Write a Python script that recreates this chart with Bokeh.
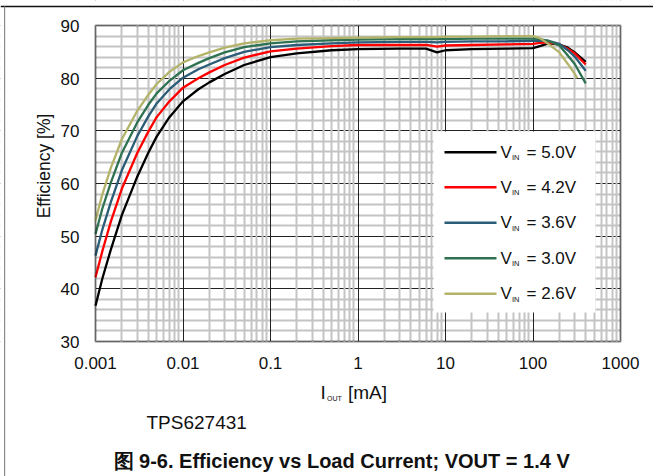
import math
from bokeh.plotting import figure
from bokeh.models import FixedTicker, Grid, Label, BoxAnnotation, Range1d
from bokeh.core.properties import value
from bokeh.embed import file_html
from bokeh.resources import INLINE

# ---------------- data ----------------
current_ma = [0.001, 0.0012, 0.0015, 0.002, 0.003, 0.004, 0.005, 0.007, 0.01, 0.015,
              0.02, 0.03, 0.05, 0.1, 0.2, 0.5, 1, 3, 6, 8, 10, 20, 50, 100,
              120, 150, 200, 250, 300, 400]
current_ma_26 = [0.001, 0.0012, 0.0015, 0.002, 0.003, 0.004, 0.005, 0.007, 0.01, 0.015,
                 0.02, 0.03, 0.05, 0.1, 0.2, 0.5, 1, 3, 6, 8, 10, 20, 50, 100,
                 120, 150, 200, 250, 300, 320]

eff_5v0 = [36.8, 42.0, 47.5, 54.0, 61.3, 65.8, 68.9, 72.6, 75.6, 77.9,
           79.2, 80.8, 82.5, 84.0, 84.7, 85.3, 85.5, 85.6, 85.6, 84.9, 85.3, 85.5, 85.6, 85.7,
           86.1, 86.6, 86.4, 85.8, 84.9, 83.1]
eff_4v2 = [42.2, 47.2, 52.8, 59.0, 65.8, 69.8, 72.6, 75.6, 78.2, 80.0,
           81.1, 82.5, 83.9, 85.1, 85.6, 86.1, 86.3, 86.3, 86.3, 86.0, 86.2, 86.3, 86.4, 86.5,
           86.7, 86.8, 86.4, 85.6, 84.7, 82.6]
eff_3v6 = [46.3, 51.3, 56.5, 62.5, 69.0, 72.7, 75.2, 77.9, 80.1, 81.7,
           82.6, 83.8, 85.0, 85.9, 86.3, 86.6, 86.8, 86.9, 86.9, 86.8, 86.9, 87.0, 87.0, 87.1,
           87.1, 87.1, 86.5, 85.3, 84.1, 81.4]
eff_3v0 = [50.4, 55.3, 60.2, 65.8, 71.6, 74.9, 77.1, 79.5, 81.5, 82.9,
           83.8, 84.9, 85.9, 86.6, 87.0, 87.2, 87.3, 87.4, 87.4, 87.4, 87.4, 87.5, 87.5, 87.5,
           87.4, 87.1, 86.2, 84.3, 82.7, 79.0]
eff_2v6 = [53.0, 58.0, 63.0, 68.4, 73.8, 76.8, 78.9, 81.2, 83.0, 84.2,
           84.9, 85.8, 86.6, 87.2, 87.5, 87.6, 87.7, 87.8, 87.8, 87.8, 87.9, 87.9, 88.0, 88.0,
           87.6, 86.5, 84.9, 82.7, 80.8, 80.0]

series_vin = ["5.0V", "4.2V", "3.6V", "3.0V", "2.6V"]
series_colors = ["#000000", "#ff0000", "#2b5c78", "#2e7252", "#b3b36a"]

x_ticks = [0.001, 0.01, 0.1, 1, 10, 100, 1000]
x_tick_labels = ["0.001", "0.01", "0.1", "1", "10", "100", "1000"]
x_minor = [k * 10.0 ** d for d in range(-3, 3) for k in range(2, 10)]
y_ticks = [30, 40, 50, 60, 70, 80, 90]
y_tick_labels = ["30", "40", "50", "60", "70", "80", "90"]
y_minor = [v for v in range(32, 90, 2) if v % 10 != 0]

FONT = "Liberation Sans"
W, H = 653, 476
FL, FT, FR, FB = 95, 25, 620, 341          # plot-area edges in canvas px
XMIN, XMAX, YMIN, YMAX = 0.001, 1000.0, 30.0, 90.0

# the Bokeh frame covers the whole canvas; ranges are widened so that the
# plot area [XMIN, XMAX] x [YMIN, YMAX] lands at FL..FR, FT..FB
dec_px = (FR - FL) / (math.log10(XMAX) - math.log10(XMIN))
x_lo = 10 ** (math.log10(XMIN) - FL / dec_px)
x_hi = 10 ** (math.log10(XMAX) + (W - FR) / dec_px)
u_px = (FB - FT) / (YMAX - YMIN)
y_lo = YMIN - (H - FB) / u_px
y_hi = YMAX + FT / u_px

p = figure(width=W, height=H, x_axis_type="log",
           x_range=Range1d(x_lo, x_hi), y_range=Range1d(y_lo, y_hi),
           x_axis_location=None, y_axis_location=None, min_border=0,
           output_backend="svg", toolbar_location=None)
p.background_fill_color = "white"
p.border_fill_color = "white"
p.outline_line_color = None

xt = FixedTicker(ticks=x_ticks, minor_ticks=x_minor)
yt = FixedTicker(ticks=y_ticks, minor_ticks=y_minor)
grid_style = dict(grid_line_color="#222222", grid_line_width=1,
                  minor_grid_line_color="#c4c4c4", minor_grid_line_width=2)
p.add_layout(Grid(dimension=1, ticker=yt, **grid_style))
p.add_layout(Grid(dimension=0, ticker=xt, **grid_style))

# white masks outside the plot area (grid lines span the whole frame)
mask = dict(fill_color="white", fill_alpha=1.0, line_color=None, level="underlay")
p.add_layout(BoxAnnotation(right=XMIN, **mask))
p.add_layout(BoxAnnotation(left=XMAX, **mask))
p.add_layout(BoxAnnotation(top=YMIN, **mask))
p.add_layout(BoxAnnotation(bottom=YMAX, **mask))

# ---------------- curves ----------------
all_eff = [eff_5v0, eff_4v2, eff_3v6, eff_3v0, eff_2v6]
all_x = [current_ma, current_ma, current_ma, current_ma, current_ma_26]
for xs, ys, c in zip(all_x, all_eff, series_colors):
    p.line(xs, ys, line_color=c, line_width=2.3, line_join="round")

# plot-area border
p.add_layout(BoxAnnotation(left=XMIN, right=XMAX, bottom=YMIN, top=YMAX,
                           fill_alpha=0, line_color="black", line_width=2.5, level="overlay"))

# tick labels, placed on the data scales
p.text(x=x_ticks, y=[YMIN] * len(x_ticks), text=x_tick_labels, text_font=value(FONT),
       text_font_size="17px", text_color="#111111", text_align="center",
       text_baseline="middle", y_offset=21.5)
p.text(x=[XMIN] * len(y_ticks), y=y_ticks, text=y_tick_labels, text_font=value(FONT),
       text_font_size="17px", text_color="#111111", text_align="right",
       text_baseline="middle", x_offset=-16, y_offset=0.5)

# ---------------- helpers (screen units = canvas px, y measured upward) ----------------
def sx(cx):
    return cx

def sy(cy):
    return H - cy

def text(cx, cy, t, size, bold=False, align="left", angle=0.0):
    # cy is the vertical centre of the text
    p.add_layout(Label(x=sx(cx), y=sy(cy), x_units="screen", y_units="screen", text=t,
                       text_font=FONT, text_font_size=size, text_color="#111111",
                       text_font_style="bold" if bold else "normal",
                       text_align=align, text_baseline="middle", angle=angle))

def box(l, r, t, b, color):
    p.add_layout(BoxAnnotation(left=sx(l), right=sx(r), top=sy(t), bottom=sy(b),
                               left_units="screen", right_units="screen",
                               top_units="screen", bottom_units="screen",
                               fill_color=color, fill_alpha=1.0, line_color=None))

# legend
box(433, 595, 131, 312, "white")
row_c = [151.7, 186.7, 222.3, 257.7, 293.3]
for rc, lab, c in zip(row_c, series_vin, series_colors):
    box(444, 496, rc - 1.2, rc + 1.2, c)
    text(500, rc, "V", "17px")
    text(511.5, rc + 5.6, "IN", "7.5px")
    text(526, rc, "= " + lab, "17px")

# axis titles
text(43, 165.5, "Efficiency [%]", "17.5px", align="center", angle=math.pi / 2)
text(320, 392, "I", "19px")
text(326.5, 397.5, "OUT", "7px")
text(347.5, 392, "[mA]", "19px")

# captions
text(146, 422, "TPS627431", "19px")
text(113, 460.5, "图 9-6. Efficiency vs Load Current; VOUT = 1.4 V", "20px", bold=True)

# page frame lines
box(0, W, 5.3, 6.8, "#111111")
box(3.5, 4.7, 6, H, "#8a8a8a")

open("out.html", "w").write(file_html(p, INLINE))
